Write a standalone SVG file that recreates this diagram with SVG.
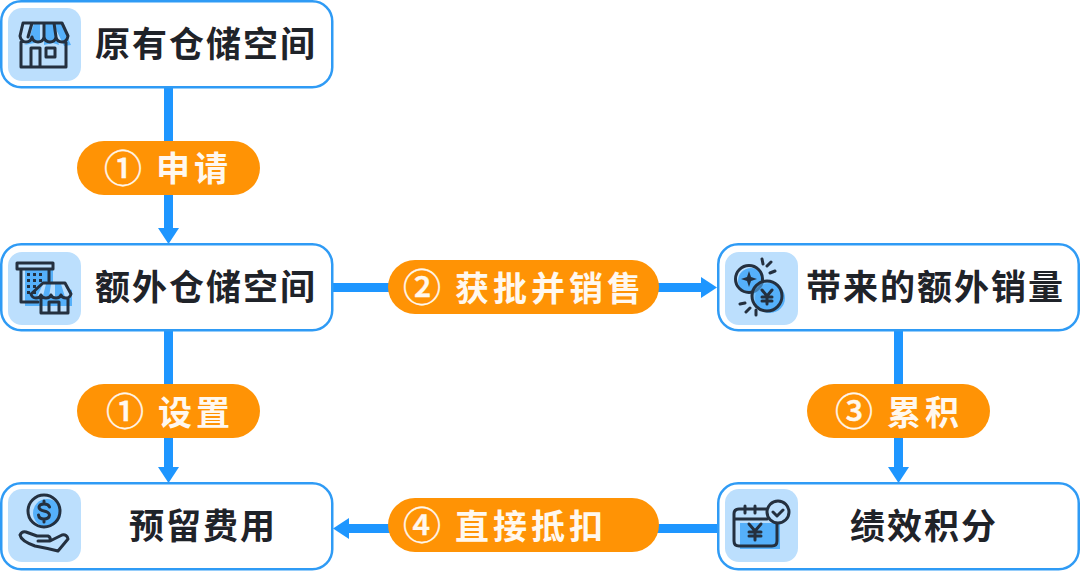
<svg xmlns="http://www.w3.org/2000/svg" width="1080" height="581" viewBox="0 0 1080 581">
<style>
.box{fill:#fff;stroke:#2f9bf5;stroke-width:2.5}
.tile{fill:#bcdffd}
.t{font-family:"Noto Sans CJK SC","Liberation Sans",sans-serif;font-weight:700;font-size:35px;fill:#1f2329;letter-spacing:2px}
.p{fill:#ff9305}
.pt{font-family:"Noto Sans CJK SC","Liberation Sans",sans-serif;font-weight:700;font-size:34px;fill:#fff8ef;letter-spacing:4px}
.c{font-family:"Noto Sans CJK SC","Liberation Sans",sans-serif;font-weight:500;font-size:38px;fill:#fff8ef;stroke:#fff8ef;stroke-width:.4}
.l{stroke:#1e96ff;stroke-width:9;fill:none}
.a{fill:#1e96ff}
.i{fill:none;stroke:#24303f;stroke-width:3;stroke-linejoin:round;stroke-linecap:round}
.d{fill:#24303f}
.s{fill:#55b0fa}
</style>
<rect width="1080" height="581" fill="#fff"/>
<g id="connectors">
<path class="l" d="M168.500 87V230"/><path class="a" d="M158 228h21l-10.500 16z"/>
<path class="l" d="M168.500 330V469"/><path class="a" d="M158 467h21l-10.500 16z"/>
<path class="l" d="M332 287.500H703"/><path class="a" d="M701 277v21l16-10.500z"/>
<path class="l" d="M898.500 330V469"/><path class="a" d="M888 467h21l-10.500 16z"/>
<path class="l" d="M718 528.500H347"/><path class="a" d="M349 518v21l-16-10.500z"/>
</g>
<g id="node-original">
<rect class="box" x="1.250" y="1.250" width="331" height="86" rx="20"/>
<rect class="tile" x="8" y="8" width="73" height="73" rx="14"/>
<path class="s" d="M24 45l4-2 6-20h6v19zM44 23h9l6 22-6-2-9 2zM53 23h8l10 22-7 1z"/>
<path class="i" d="M23 23h39l6 13q-1 6-6 6t-6-5q-1 5-6 5t-6-5q-1 5-6 5t-6-5q-1 5-6 5t-6-6zM32 23l-4 14M44 23v14M54 23l2 14M21 42v25h45V42M31 67V48h9v19M46 48h9v9h-9z"/>
<text class="t" x="95" y="57">原有仓储空间</text>
</g>
<g id="node-extra">
<rect class="box" x="1.250" y="244.250" width="331" height="86" rx="20"/>
<rect class="tile" x="8" y="252" width="73" height="73" rx="14"/>
<path class="s" d="M25 270h28v14l19 6v16H25z"/>
<path class="i" d="M17 263h36v6H17zM21 269v33h17M49 269v12"/>
<path class="d" d="M27 273h3v3h-3zM33 273h3v3h-3zM39 273h3v3h-3zM27 279h3v3h-3zM33 279h3v3h-3zM39 279h3v3h-3zM27 285h3v3h-3zM33 285h3v3h-3zM27 291h3v3h-3zM33 291h3v3h-3z"/>
<path d="M43 284h23l6 12-7 2-28-1z" fill="#bcdffd"/><path class="s" d="M46 284h5l-2 13-6-1zM55 284h6l4 13-5-1-5 1z"/>
<path class="i" d="M43 283h22l6 11q-1 4-5 4t-5-3q-1 3-5 3t-5-3q-1 3-5 3t-5-3q-1 3-5 3t-5-4zM41 298v15h27V298M49 313v-11h10v11"/>
<text class="t" x="95" y="300">额外仓储空间</text>
</g>
<g id="node-sales">
<rect class="box" x="718.250" y="244.250" width="360.500" height="86" rx="20"/>
<rect class="tile" x="725" y="252" width="73" height="73" rx="14"/>
<circle class="s" cx="751" cy="281" r="13"/><circle class="s" cx="770" cy="298" r="15"/>
<circle class="i" cx="749" cy="279" r="13.500"/><circle class="i" cx="767" cy="296" r="15" style="fill:#55b0fa;fill-opacity:.6"/>
<path class="d" d="M749 271l2 6 6 2-6 2-2 6-2-6-6-2 6-2z"/>
<path class="i" d="M762 290l5 6 5-6M767 296v8M762 297h10M762 301h10M762 259l1 5M771 262l-4 4M775 271l-5 2M745 303l-5 1M750 308l-4 4M756 310l0 5"/>
<text class="t" x="806" y="300">带来的额外销量</text>
</g>
<g id="node-reserve">
<rect class="box" x="1.250" y="483.250" width="331" height="86" rx="20"/>
<rect class="tile" x="8" y="489" width="73" height="73" rx="14"/>
<circle class="s" cx="47" cy="513" r="14"/>
<circle class="i" cx="44" cy="511" r="16"/>
<path class="i" d="M49.500 507q-1-3-5.500-3t-5 3q0 3 5 4t5.500 4q-.5 4-5.500 4t-5.500-4M44 501v3M44 519v3"/>
<path class="i" d="M20 535q2-4 6-3l11 4h11q3 1 2 5H38 50l12-6q5-1 6 4L58 551q-12-3-23-5-14-5-15-11z"/>
<text class="t" x="129" y="539">预留费用</text>
</g>
<g id="node-points">
<rect class="box" x="718.250" y="483.250" width="360.500" height="86" rx="20"/>
<rect class="tile" x="725" y="489" width="73" height="73" rx="14"/>
<rect class="s" x="740" y="523" width="40" height="26"/>
<path class="i" d="M767 509h-28q-5 0-5 5v27q0 5 5 5h33q5 0 5-5V524M735 519h32M745 506v7M755 506v7"/>
<circle class="i" cx="778" cy="512" r="11" style="fill:#bcdffd"/>
<path class="i" d="M773 512l4 4 6-6"/>
<path class="i" d="M749 524l6 7 6-7M755 531v9M749 532h12M749 536h12"/>
<text class="t" x="850" y="539">绩效积分</text>
</g>
<g id="label-1a"><rect class="p" x="77" y="141" width="183" height="54" rx="27"/><text class="c" x="104" y="182">①</text><text class="pt" x="156" y="181">申请</text></g>
<g id="label-1b"><rect class="p" x="77" y="384" width="183" height="54" rx="27"/><text class="c" x="106" y="425">①</text><text class="pt" x="158" y="425">设置</text></g>
<g id="label-2"><rect class="p" x="388" y="260" width="271" height="54" rx="27"/><text class="c" x="403" y="301">②</text><text class="pt" x="455" y="301">获批并销售</text></g>
<g id="label-3"><rect class="p" x="807" y="384" width="183" height="54" rx="27"/><text class="c" x="835" y="425">③</text><text class="pt" x="887" y="425">累积</text></g>
<g id="label-4"><rect class="p" x="388" y="498" width="271" height="54" rx="27"/><text class="c" x="403" y="539">④</text><text class="pt" x="455" y="539">直接抵扣</text></g>
</svg>
